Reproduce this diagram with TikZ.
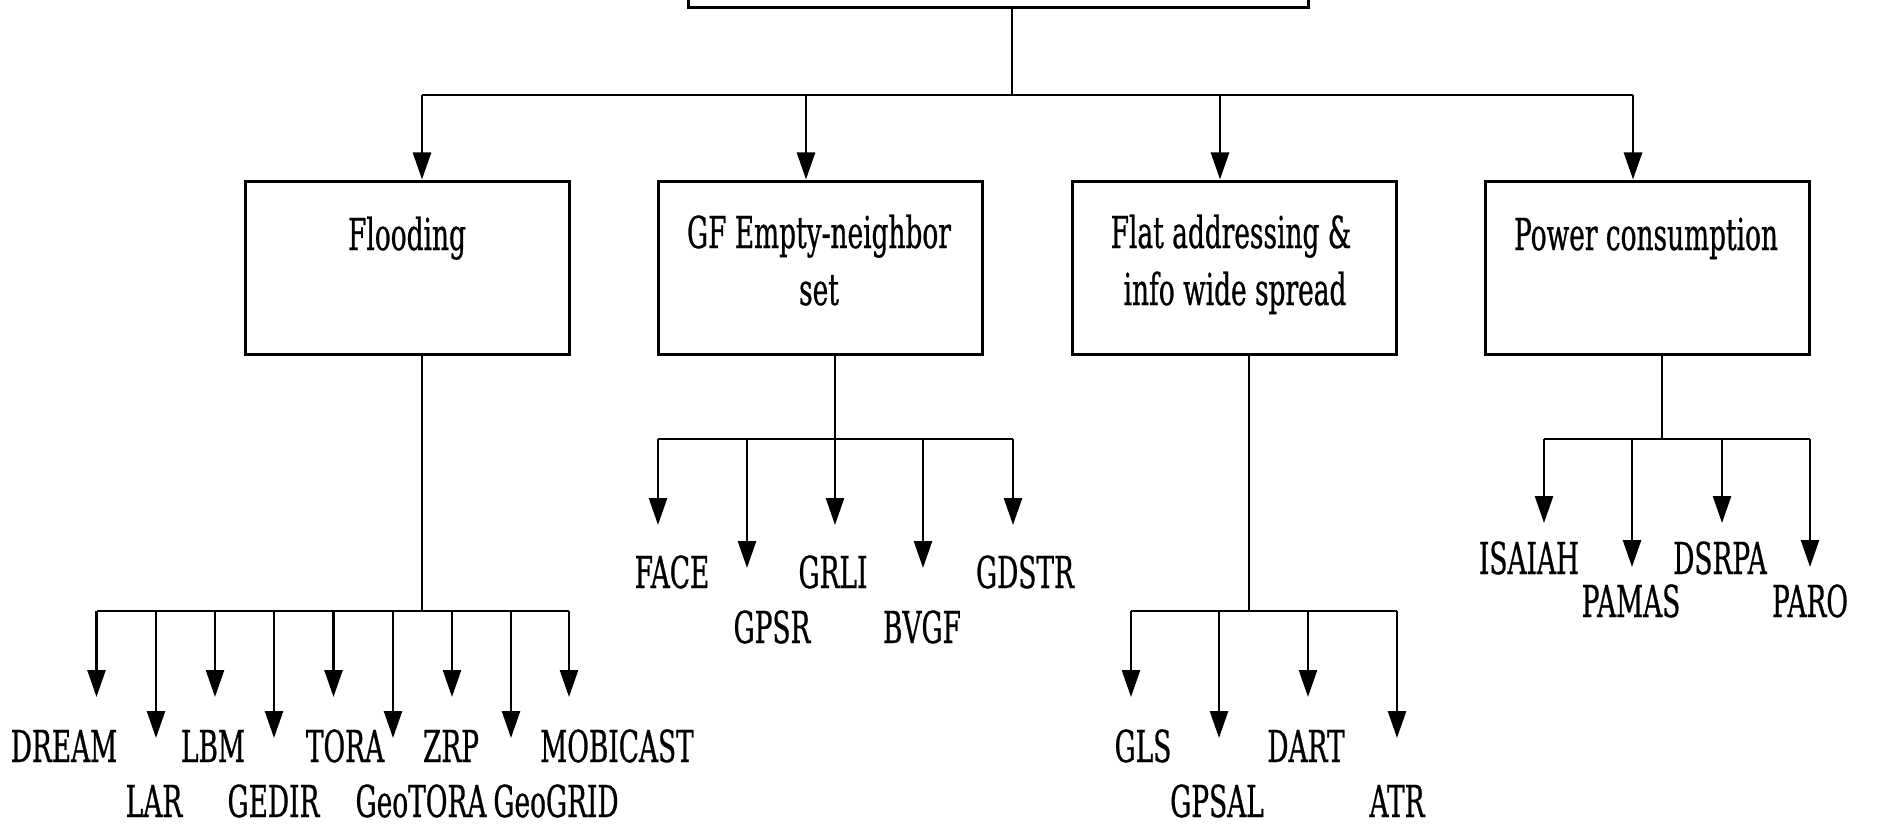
\documentclass[tikz,border=0pt]{standalone}
\usepackage{fontspec}
\usetikzlibrary{arrows.meta}
\newfontfamily\labfont[FakeStretch=0.6,FakeBold=0.6]{DejaVu Serif}
\tikzset{
  box/.style={draw, line width=1.5pt, minimum width=162pt, minimum height=86.5pt, inner sep=0pt},
  conn/.style={line width=1.3pt},
  arr/.style={line width=1.3pt, -{Triangle[length=13.5pt,width=9pt]}},
  lab/.style={font=\labfont\fontsize{22pt}{26pt}\selectfont, inner sep=0pt, anchor=base},
}
\begin{document}
\begin{tikzpicture}[x=0.5pt,y=-0.5pt]
\clip (0,0) rectangle (1895,824);
\fill[white] (0,0) rectangle (1895,824);
% root
\node[draw, line width=1.5pt, minimum width=310pt, minimum height=44pt, inner sep=0pt] (root) at (998,-36) {};
\coordinate (j0) at (1012,95);
\draw[conn] (root.south -| j0) -- (j0);
\coordinate (b1) at (422,95);
\coordinate (b2) at (806,95);
\coordinate (b3) at (1220,95);
\coordinate (b4) at (1633,95);
\draw[conn] (b1) -- (b4);
% level 2 boxes
\node[box] (flood) at (407,267.5) {};
\node[box] (gf) at (820.5,267.5) {};
\node[box] (flat) at (1234,267.5) {};
\node[box] (power) at (1647,267.5) {};
\draw[arr] (b1) -- (flood.north -| b1);
\draw[arr] (b2) -- (gf.north -| b2);
\draw[arr] (b3) -- (flat.north -| b3);
\draw[arr] (b4) -- (power.north -| b4);
\node[lab] (floodT) at (407,250) {Flooding};
\node[lab] (gfT1) at (819,248) {GF Empty-neighbor};
\node[lab] (gfT2) at (819,305) {set};
\node[lab] (flatT1) at (1231,248) {Flat addressing \&};
\node[lab] (flatT2) at (1235,305) {info wide spread};
\node[lab] (powerT) at (1646,250) {Power consumption};
% ---------------- Flooding subtree
\coordinate (fj) at (422,611);
\draw[conn] (flood.south -| fj) -- (fj);
\coordinate (f1) at (96.5,611);
\coordinate (f9) at (569,611);
\draw[conn] (f1) -- (f9);
\coordinate (f2) at (156,611);
\coordinate (f3) at (215,611);
\coordinate (f4) at (274,611);
\coordinate (f5) at (333.5,611);
\coordinate (f6) at (393,611);
\coordinate (f7) at (452,611);
\coordinate (f8) at (511,611);
\coordinate (ft1) at (96.5,697);
\coordinate (ft2) at (156,738);
\coordinate (ft3) at (215,697);
\coordinate (ft4) at (274,738);
\coordinate (ft5) at (333.5,697);
\coordinate (ft6) at (393,738);
\coordinate (ft7) at (452,697);
\coordinate (ft8) at (511,738);
\coordinate (ft9) at (569,697);
\draw[arr] (f1) -- (ft1);
\draw[arr] (f2) -- (ft2);
\draw[arr] (f3) -- (ft3);
\draw[arr] (f4) -- (ft4);
\draw[arr] (f5) -- (ft5);
\draw[arr] (f6) -- (ft6);
\draw[arr] (f7) -- (ft7);
\draw[arr] (f8) -- (ft8);
\draw[arr] (f9) -- (ft9);
\node[lab] (dream) at (64,762) {DREAM};
\node[lab] (lbm) at (213,762) {LBM};
\node[lab] (tora) at (345,762) {TORA};
\node[lab] (zrp) at (451,762) {ZRP};
\node[lab] (mobicast) at (617,762) {MOBICAST};
\node[lab] (lar) at (154,817) {LAR};
\node[lab] (gedir) at (273.5,817) {GEDIR};
\node[lab] (geotora) at (421,817) {GeoTORA};
\node[lab] (geogrid) at (556,817) {GeoGRID};
% ---------------- GF subtree
\coordinate (gj) at (835,439);
\draw[conn] (gf.south -| gj) -- (gj);
\coordinate (g1) at (658,439);
\coordinate (g2) at (747,439);
\coordinate (g3) at (835,439);
\coordinate (g4) at (923,439);
\coordinate (g5) at (1013,439);
\draw[conn] (g1) -- (g5);
\coordinate (gt1) at (658,525);
\coordinate (gt2) at (747,568);
\coordinate (gt3) at (835,525);
\coordinate (gt4) at (923,568);
\coordinate (gt5) at (1013,525);
\draw[arr] (g1) -- (gt1);
\draw[arr] (g2) -- (gt2);
\draw[arr] (g3) -- (gt3);
\draw[arr] (g4) -- (gt4);
\draw[arr] (g5) -- (gt5);
\node[lab] (face) at (672,588) {FACE};
\node[lab] (grli) at (833,588) {GRLI};
\node[lab] (gdstr) at (1025,588) {GDSTR};
\node[lab] (gpsr) at (772,643) {GPSR};
\node[lab] (bvgf) at (922,643) {BVGF};
% ---------------- Flat subtree
\coordinate (aj) at (1249,611);
\draw[conn] (flat.south -| aj) -- (aj);
\coordinate (a1) at (1131,611);
\coordinate (a2) at (1219,611);
\coordinate (a3) at (1308,611);
\coordinate (a4) at (1397,611);
\draw[conn] (a1) -- (a4);
\coordinate (at1) at (1131,697);
\coordinate (at2) at (1219,738);
\coordinate (at3) at (1308,697);
\coordinate (at4) at (1397,738);
\draw[arr] (a1) -- (at1);
\draw[arr] (a2) -- (at2);
\draw[arr] (a3) -- (at3);
\draw[arr] (a4) -- (at4);
\node[lab] (gls) at (1143,762) {GLS};
\node[lab] (dart) at (1306,762) {DART};
\node[lab] (gpsal) at (1217,817) {GPSAL};
\node[lab] (atr) at (1397,817) {ATR};
% ---------------- Power subtree
\coordinate (pj) at (1662,439);
\draw[conn] (power.south -| pj) -- (pj);
\coordinate (p1) at (1544,439);
\coordinate (p2) at (1632,439);
\coordinate (p3) at (1722,439);
\coordinate (p4) at (1810,439);
\draw[conn] (p1) -- (p4);
\coordinate (pt1) at (1544,523);
\coordinate (pt2) at (1632,567);
\coordinate (pt3) at (1722,523);
\coordinate (pt4) at (1810,567);
\draw[arr] (p1) -- (pt1);
\draw[arr] (p2) -- (pt2);
\draw[arr] (p3) -- (pt3);
\draw[arr] (p4) -- (pt4);
\node[lab] (isaiah) at (1529,574) {ISAIAH};
\node[lab] (dsrpa) at (1720,574) {DSRPA};
\node[lab] (pamas) at (1631,617) {PAMAS};
\node[lab] (paro) at (1810,617) {PARO};
\end{tikzpicture}
\end{document}
